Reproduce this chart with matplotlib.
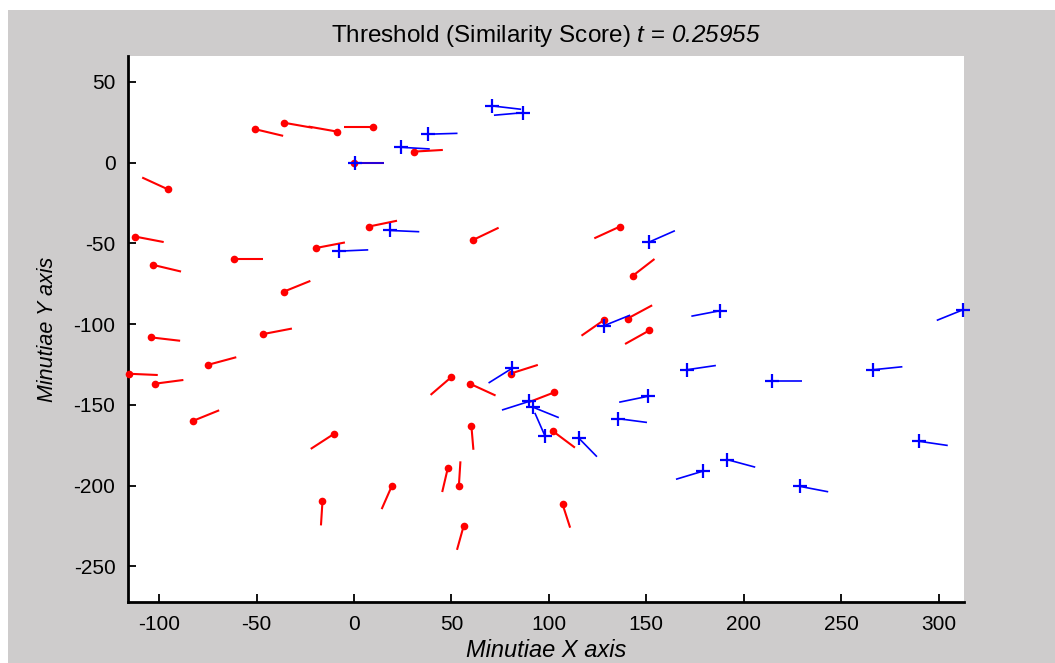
import numpy as np
import matplotlib
matplotlib.use("Agg")
import matplotlib.pyplot as plt
from matplotlib.patches import Rectangle

plt.rcParams['font.family'] = ['Liberation Sans', 'DejaVu Sans']
plt.rcParams['mathtext.fontset'] = 'custom'
plt.rcParams['mathtext.rm'] = 'Liberation Sans:italic'
plt.rcParams['mathtext.it'] = 'Liberation Sans:italic'
plt.rcParams['axes.unicode_minus'] = False

# Template minutiae (red): x, y, direction (degrees)
red_x = [-50.8, -36.0, -8.7, 9.6, 0.2, 30.6, -95.6, -112.3, -19.3, 7.5,
         -103.2, -61.5, -35.9, -104.1, -46.5, -74.7, -115.7, -102.4, -82.7, -10.4,
         -16.2, 19.3, 61.2, 128.2, 140.4, 151.5, 143.2, 136.4, 80.3, 49.7,
         59.5, 102.8, 102.2, 60.2, 48.1, 53.8, 56.2, 107.0]
red_y = [20.7, 24.7, 19.2, 22.3, 0.0, 6.8, -16.5, -45.8, -52.8, -39.6,
         -63.3, -59.4, -79.8, -108.2, -106.1, -125.1, -130.7, -136.9, -159.9, -168.0,
         -209.6, -200.4, -47.8, -97.5, -96.5, -103.9, -69.9, -39.6, -130.6, -133.0,
         -136.9, -142.2, -166.4, -162.8, -189.2, -199.9, -225.1, -211.5]
red_ang = [-16, -12, 168, 180, 0, 4, 151, -13, 13, 14,
           -16, 0, 26, -8, 13, 18, -3, 9, 26, 218,
           267, 250, 30, 220, 33, 214, 43, 209, 21, 226,
           -29, 205, -42, -86, 259, 87, 257, -75]

# Query minutiae (blue): x, y, direction (degrees)
blue_x = [0.5, 23.9, 18.5, 38.1, 70.9, 86.7, 151.4, -7.7, 128.2, 81.0,
          89.9, 91.6, 97.9, 115.2, 170.9, 150.6, 135.5, 187.7, 312.5, 214.7,
          266.5, 179.3, 191.6, 228.7, 289.9]
blue_y = [0.0, 9.5, -42.0, 17.6, 35.1, 30.9, -49.2, -54.8, -101.0, -127.4,
          -147.8, -151.3, -169.0, -170.4, -128.2, -144.7, -158.5, -91.7, -91.1, -135.4,
          -128.2, -190.9, -183.9, -200.4, -172.5]
blue_ang = [0, -4, -3, 2, -8, 186, 28, 3, 26, 217,
            201, -26, 110, -51, 10, 194, -9, 193, 206, 0,
            7, 200, -18, -13, -10]

seg_len = 15
x_ticks = [-100, -50, 0, 50, 100, 150, 200, 250, 300]
y_ticks = [-250, -200, -150, -100, -50, 0, 50]
title_text = r'Threshold (Similarity Score) $t$ = $0.25955$'

fig = plt.figure(figsize=(10.55, 6.63), dpi=100)
fig.patch.set_facecolor('white')
fig.patches.append(Rectangle((8 / 1055, 0), 1 - 8 / 1055, 1 - 10 / 663,
                             transform=fig.transFigure, facecolor='#cecccc',
                             edgecolor='none', zorder=-10))
ax = fig.add_axes([128 / 1055, 61 / 663, 836 / 1055, 546 / 663])
ax.set_facecolor('white')

for x, y, a in zip(red_x, red_y, red_ang):
    t = np.deg2rad(a)
    ax.plot([x, x + seg_len * np.cos(t)], [y, y + seg_len * np.sin(t)],
            color='red', lw=1.5, solid_capstyle='butt', clip_on=False, zorder=2)
ax.plot(red_x, red_y, 'o', color='red', markersize=5.5, markeredgewidth=0,
        clip_on=False, zorder=3)

for x, y, a in zip(blue_x, blue_y, blue_ang):
    t = np.deg2rad(a)
    ax.plot([x, x + seg_len * np.cos(t)], [y, y + seg_len * np.sin(t)],
            color='blue', lw=1.2, solid_capstyle='butt', clip_on=False, zorder=4)
ax.plot(blue_x, blue_y, '+', color='blue', markersize=10, markeredgewidth=1.6,
        clip_on=False, zorder=5)

ax.set_xlim(-116, 313)
ax.set_ylim(-272, 66)
ax.set_xticks(x_ticks)
ax.set_yticks(y_ticks)
ax.tick_params(direction='in', length=6, width=1.3, labelsize=15, pad=9)
for side in ['top', 'right']:
    ax.spines[side].set_visible(False)
for side in ['left', 'bottom']:
    ax.spines[side].set_linewidth(2)

ax.set_title(title_text, fontsize=17.5, pad=10)
ax.set_xlabel('Minutiae X axis', fontsize=17, style='italic', labelpad=4)
ax.set_ylabel('Minutiae Y axis', fontsize=15.5, style='italic', labelpad=11)

fig.savefig('out.png', dpi=100)
